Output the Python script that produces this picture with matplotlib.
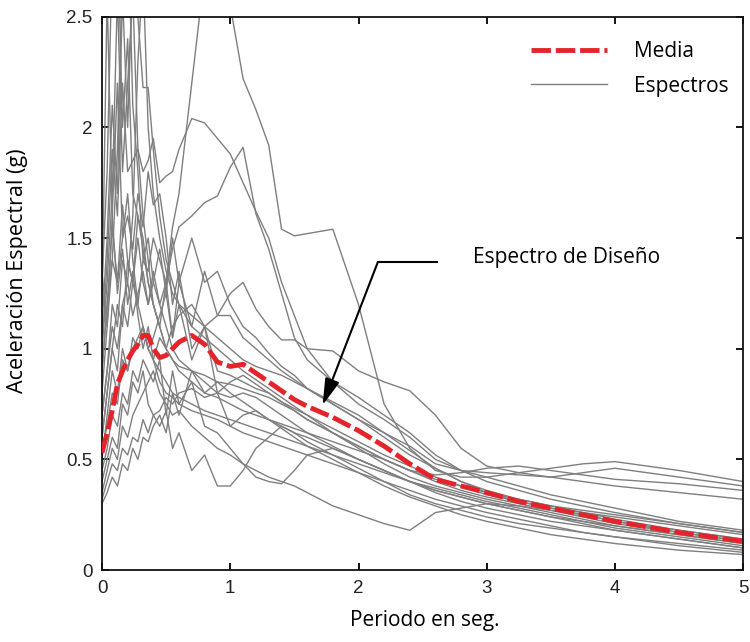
import matplotlib
matplotlib.use('Agg')
import matplotlib.pyplot as plt

# Periodos (s) comunes a todos los espectros
periodos = [0.00, 0.04, 0.08, 0.12, 0.16, 0.20, 0.24, 0.28, 0.32, 0.36,
            0.40, 0.45, 0.50, 0.55, 0.60, 0.70, 0.80, 0.90, 1.00, 1.10,
            1.20, 1.30, 1.40, 1.50, 1.60, 1.80, 2.00, 2.20, 2.40, 2.60,
            2.80, 3.00, 3.25, 3.50, 3.75, 4.00, 4.50, 5.00]

# Espectros individuales (g)
esp01 = [0.90, 1.20, 1.55, 1.30, 1.65, 1.40, 1.30, 1.50, 1.30, 1.20, 1.35, 1.20, 1.30, 1.55, 1.70, 2.20, 2.70, 2.95, 2.55,
         2.22, 2.08, 1.92, 1.54, 1.51, 1.52, 1.54, 1.20, 0.75, 0.55, 0.45, 0.42, 0.42, 0.44, 0.46, 0.48, 0.49, 0.45, 0.40]
esp02 = [1.00, 1.40, 1.90, 1.60, 2.20, 1.80, 1.85, 1.90, 1.80, 1.85, 1.95, 1.75, 1.78, 1.80, 1.90, 2.04, 2.02, 1.95, 1.88,
         1.75, 1.62, 1.50, 1.30, 1.15, 1.00, 0.85, 0.75, 0.68, 0.60, 0.50, 0.45, 0.42, 0.38, 0.34, 0.31, 0.28, 0.22, 0.18]
esp03 = [1.10, 1.50, 2.10, 1.70, 2.60, 2.00, 2.70, 2.50, 2.18, 2.18, 1.90, 1.60, 1.40, 1.30, 1.20, 1.10, 1.05, 1.00, 0.95,
         0.90, 0.86, 0.82, 0.78, 0.74, 0.70, 0.62, 0.55, 0.48, 0.42, 0.38, 0.35, 0.32, 0.29, 0.26, 0.23, 0.20, 0.16, 0.12]
esp04 = [1.30, 1.80, 2.80, 2.90, 2.00, 2.40, 1.70, 1.60, 1.50, 1.30, 1.20, 1.10, 1.00, 0.95, 0.90, 0.85, 0.80, 0.78, 0.75,
         0.72, 0.70, 0.68, 0.66, 0.64, 0.62, 0.58, 0.54, 0.50, 0.45, 0.40, 0.36, 0.33, 0.30, 0.27, 0.24, 0.21, 0.17, 0.13]
esp05 = [0.80, 1.10, 1.40, 1.90, 2.70, 3.00, 2.10, 1.80, 1.40, 1.50, 1.30, 1.20, 1.10, 1.00, 0.95, 0.90, 0.85, 0.80, 0.78,
         0.80, 0.78, 0.74, 0.70, 0.66, 0.62, 0.56, 0.50, 0.45, 0.40, 0.36, 0.33, 0.30, 0.27, 0.24, 0.22, 0.19, 0.15, 0.11]
esp06 = [0.60, 0.80, 1.00, 0.90, 1.20, 1.10, 1.30, 1.20, 1.40, 1.35, 1.50, 1.40, 1.30, 1.45, 1.55, 1.60, 1.66, 1.69, 1.82,
         1.91, 1.61, 1.45, 1.25, 1.05, 0.95, 0.85, 0.78, 0.70, 0.62, 0.52, 0.45, 0.40, 0.36, 0.32, 0.29, 0.26, 0.21, 0.17]
esp07 = [0.50, 0.70, 0.90, 0.80, 1.00, 0.90, 1.05, 1.00, 1.10, 1.00, 0.95, 1.05, 1.00, 1.10, 1.15, 1.20, 1.10, 1.15, 1.25,
         1.30, 1.18, 1.10, 1.04, 1.04, 1.00, 0.99, 0.90, 0.85, 0.81, 0.70, 0.55, 0.47, 0.44, 0.42, 0.40, 0.38, 0.35, 0.32]
esp08 = [0.40, 0.50, 0.60, 0.55, 0.75, 0.70, 0.85, 0.80, 0.90, 0.75, 0.70, 0.65, 0.72, 0.55, 0.62, 0.45, 0.52, 0.38, 0.38,
         0.45, 0.55, 0.60, 0.65, 0.62, 0.58, 0.52, 0.46, 0.40, 0.34, 0.30, 0.27, 0.24, 0.21, 0.19, 0.17, 0.15, 0.12, 0.09]
esp09 = [0.35, 0.45, 0.55, 0.50, 0.65, 0.60, 0.70, 0.75, 0.80, 0.85, 0.90, 0.80, 0.75, 0.70, 0.72, 0.65, 0.60, 0.55, 0.52,
         0.48, 0.45, 0.42, 0.40, 0.38, 0.35, 0.29, 0.25, 0.21, 0.18, 0.26, 0.28, 0.30, 0.29, 0.27, 0.25, 0.22, 0.17, 0.13]
esp10 = [0.45, 0.55, 0.70, 0.65, 0.80, 0.75, 0.90, 0.85, 0.95, 0.90, 0.85, 0.95, 0.70, 0.90, 0.75, 0.85, 0.65, 0.62, 0.55,
         0.48, 0.42, 0.40, 0.39, 0.45, 0.52, 0.55, 0.50, 0.45, 0.40, 0.35, 0.31, 0.28, 0.25, 0.22, 0.20, 0.18, 0.14, 0.10]
esp11 = [1.20, 2.60, 1.60, 2.20, 1.50, 1.70, 1.40, 1.20, 1.10, 1.00, 0.95, 0.90, 0.85, 0.80, 0.78, 0.75, 0.72, 0.70, 0.68,
         0.66, 0.64, 0.62, 0.60, 0.58, 0.56, 0.52, 0.48, 0.44, 0.40, 0.36, 0.33, 0.30, 0.27, 0.24, 0.21, 0.18, 0.14, 0.10]
esp12 = [0.70, 0.90, 1.10, 1.00, 1.20, 1.30, 1.15, 1.25, 1.35, 1.20, 1.30, 1.45, 1.25, 1.50, 1.30, 1.50, 1.30, 1.35, 1.20,
         1.10, 1.05, 0.98, 0.92, 0.88, 0.82, 0.75, 0.68, 0.60, 0.52, 0.46, 0.40, 0.36, 0.32, 0.29, 0.26, 0.23, 0.18, 0.14]
esp13 = [0.90, 1.20, 1.40, 1.30, 1.50, 1.60, 1.45, 1.70, 1.55, 1.80, 1.65, 1.70, 1.50, 1.20, 1.35, 1.00, 1.10, 0.80, 0.65,
         0.70, 0.72, 0.68, 0.65, 0.62, 0.60, 0.55, 0.50, 0.45, 0.40, 0.37, 0.34, 0.31, 0.28, 0.25, 0.22, 0.20, 0.16, 0.12]
esp14 = [0.30, 0.35, 0.42, 0.38, 0.48, 0.45, 0.55, 0.50, 0.60, 0.58, 0.65, 0.70, 0.62, 0.80, 0.70, 0.90, 0.80, 0.85, 0.80,
         0.76, 0.72, 0.68, 0.64, 0.60, 0.56, 0.50, 0.44, 0.38, 0.33, 0.29, 0.25, 0.22, 0.19, 0.16, 0.14, 0.12, 0.09, 0.07]
esp15 = [0.32, 0.40, 0.48, 0.45, 0.55, 0.52, 0.60, 0.58, 0.68, 0.62, 0.70, 0.72, 0.78, 0.75, 0.80, 0.82, 0.78, 0.80, 0.85,
         0.88, 0.84, 0.80, 0.76, 0.72, 0.68, 0.62, 0.56, 0.50, 0.45, 0.43, 0.44, 0.46, 0.47, 0.45, 0.43, 0.41, 0.39, 0.36]
esp16 = [0.60, 0.80, 1.00, 1.20, 1.10, 1.40, 1.30, 1.60, 1.45, 1.30, 1.20, 1.10, 1.30, 1.05, 1.20, 0.95, 1.10, 0.90, 0.88,
         0.85, 0.82, 0.80, 0.76, 0.73, 0.70, 0.64, 0.58, 0.52, 0.47, 0.42, 0.38, 0.34, 0.31, 0.28, 0.26, 0.24, 0.20, 0.16]
esp17 = [1.00, 1.30, 1.70, 2.60, 1.80, 2.20, 2.60, 1.90, 1.60, 1.40, 1.20, 1.10, 1.00, 0.95, 0.92, 0.90, 0.88, 0.85, 0.84,
         0.82, 0.80, 0.78, 0.75, 0.72, 0.68, 0.62, 0.56, 0.50, 0.45, 0.41, 0.38, 0.35, 0.32, 0.29, 0.27, 0.25, 0.21, 0.17]
esp18 = [0.55, 0.65, 0.80, 0.75, 0.95, 0.90, 1.00, 1.05, 1.10, 1.00, 1.05, 1.15, 1.25, 1.05, 1.30, 1.10, 1.35, 1.15, 1.15,
         1.05, 1.00, 0.95, 0.90, 0.86, 0.82, 0.75, 0.68, 0.62, 0.56, 0.48, 0.45, 0.44, 0.43, 0.42, 0.44, 0.46, 0.42, 0.38]
esp19 = [1.35, 1.10, 1.60, 1.25, 1.45, 1.20, 1.35, 1.15, 1.00, 1.10, 0.95, 0.85, 0.80, 0.78, 0.75, 0.72, 0.70, 0.68, 0.65,
         0.62, 0.60, 0.58, 0.56, 0.54, 0.52, 0.48, 0.44, 0.40, 0.36, 0.32, 0.29, 0.26, 0.23, 0.20, 0.17, 0.15, 0.11, 0.08]
esp20 = [0.70, 0.90, 1.20, 1.10, 1.40, 1.30, 1.60, 2.30, 2.70, 2.00, 1.70, 1.50, 1.35, 1.25, 1.20, 1.15, 1.10, 1.05, 1.00,
         0.95, 0.92, 0.90, 0.88, 0.85, 0.82, 0.76, 0.70, 0.62, 0.54, 0.46, 0.40, 0.35, 0.31, 0.28, 0.25, 0.22, 0.18, 0.14]

espectros = [esp01, esp02, esp03, esp04, esp05, esp06, esp07, esp08, esp09, esp10,
             esp11, esp12, esp13, esp14, esp15, esp16, esp17, esp18, esp19, esp20]

# Espectro medio (g)
media = [0.53, 0.62, 0.72, 0.84, 0.90, 0.95, 0.99, 1.02, 1.06, 1.06, 1.00, 0.96, 0.97, 1.00, 1.03, 1.06, 1.02, 0.94, 0.92,
         0.93, 0.89, 0.85, 0.81, 0.77, 0.74, 0.69, 0.63, 0.56, 0.48, 0.41, 0.38, 0.35, 0.31, 0.28, 0.25, 0.22, 0.17, 0.13]

fuente = ['Open Sans', 'DejaVu Sans']
fuente_ejes = ['Liberation Sans', 'DejaVu Sans']

fig = plt.figure(figsize=(7.5, 6.42), dpi=100)
ax = fig.add_axes([0.136, 0.112, 0.855, 0.862])

# Espectros en gris
for i, esp in enumerate(espectros):
    ax.plot(periodos, esp, color='#7f7f7f', lw=1.0,
            label='Espectros' if i == 0 else None, zorder=2)

# Media en rojo discontinuo
ax.plot(periodos, media, color='#e3242b', lw=3.5, dashes=(4, 1),
        label='Media', zorder=3)

ax.set_xlim(0, 5)
ax.set_ylim(0, 2.5)
ax.set_xticks([0, 1, 2, 3, 4, 5])
ax.set_yticks([0, 0.5, 1, 1.5, 2, 2.5])
ax.set_xticklabels(['0', '1', '2', '3', '4', '5'])
ax.set_yticklabels(['0', '0.5', '1', '1.5', '2', '2.5'])
ax.tick_params(direction='in', length=5, width=1.3, top=True, right=True,
               labelsize=13.5, labelcolor='#222222', pad=7)
for lab in ax.get_xticklabels() + ax.get_yticklabels():
    lab.set_family(fuente_ejes)
for sp in ax.spines.values():
    sp.set_linewidth(1.3)
    sp.set_color('#111111')

# Leyenda (orden: Media, Espectros)
h, l = ax.get_legend_handles_labels()
ax.legend([h[1], h[0]], [l[1], l[0]], loc='upper left',
          bbox_to_anchor=(0.694, 0.952), bbox_transform=fig.transFigure,
          frameon=False, borderpad=0, handlelength=3.65, handletextpad=1.3,
          labelspacing=0.65, prop={'family': fuente, 'size': 15})

# Anotacion del espectro de diseno
ax.plot([2.15, 2.61], [1.39, 1.39], color='black', lw=1.5, zorder=4)
ax.annotate('', xy=(1.72, 0.745), xytext=(2.15, 1.39),
            arrowprops=dict(arrowstyle='-|>,head_length=0.9,head_width=0.25',
                            color='black', lw=1.5, mutation_scale=18,
                            shrinkA=0, shrinkB=0), zorder=4)
ax.text(2.89, 1.41, 'Espectro de Diseño', fontsize=15, family=fuente,
        va='center', ha='left')

fig.text(0.024, 0.579, 'Aceleración Espectral (g)', rotation=90,
         fontsize=15.5, family=fuente, ha='center', va='center')
fig.text(0.567, 0.034, 'Periodo en seg.', fontsize=15, family=fuente,
         ha='center', va='center')

fig.savefig('out.png', dpi=100)
